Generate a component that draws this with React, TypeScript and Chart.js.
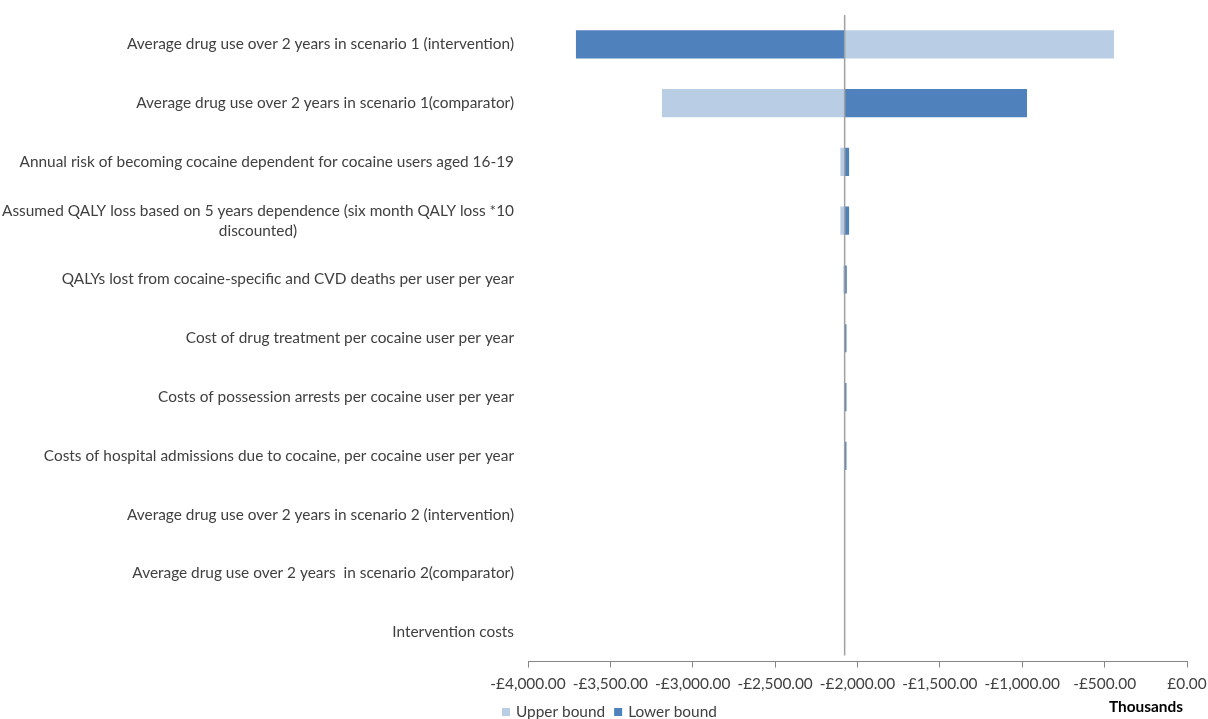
import React, { useEffect, useRef } from "react";
import { Chart, registerables } from "chart.js";

Chart.register(...registerables);

const categories: (string | string[])[] = [
  "Average drug use over 2 years in scenario 1 (intervention)",
  "Average drug use over 2 years in scenario 1(comparator)",
  "Annual risk of becoming cocaine dependent for cocaine users aged 16-19",
  ["Assumed QALY loss based on 5 years dependence (six month QALY loss *10", "discounted)"],
  "QALYs lost from cocaine-specific and CVD deaths per user per year",
  "Cost of drug treatment per cocaine user per year",
  "Costs of possession arrests per cocaine user per year",
  "Costs of hospital admissions due to cocaine, per cocaine user per year",
  "Average drug use over 2 years in scenario 2 (intervention)",
  "Average drug use over 2 years  in scenario 2(comparator)",
  "Intervention costs",
];

// Base-case value (thousands of £) where the bars start
const BASE = -2078;

const upperBound = [-443, -3187, -2104, -2104, -2086, -2081, -2081, -2081, -2078, -2078, -2078];
const lowerBound = [-3709, -971, -2051, -2051, -2065, -2067, -2067, -2067, -2078, -2078, -2078];

const seriesNames = ["Upper bound", "Lower bound"];
const seriesColors = ["#b9cde5", "#4f81bd"];

const xTicksMin = -4000;
const xTicksMax = 0;
const xTickStep = 500;

const FONT = "Lato";
const FS = 15.4;
const TEXT = "#404040";

const fmt = (v: number) => {
  const a = Math.abs(v).toLocaleString("en-GB", { minimumFractionDigits: 2, maximumFractionDigits: 2 });
  return (v < 0 ? "-" : "") + "£" + a;
};

const catLabels = {
  id: "catLabels",
  afterDraw(chart: any) {
    const ctx = chart.ctx;
    const ys = chart.scales.y;
    ctx.save();
    ctx.font = `${FS}px ${FONT}`;
    ctx.fillStyle = TEXT;
    ctx.textBaseline = "middle";
    ctx.textAlign = "center";
    const xr = chart.chartArea.left - 14;
    const LH = 20;
    categories.forEach((lab, i) => {
      const lines = Array.isArray(lab) ? lab : [lab];
      const yc = ys.getPixelForValue(i);
      const W = Math.max(...lines.map((l) => ctx.measureText(l).width));
      const cx = xr - W / 2;
      lines.forEach((l, k) => ctx.fillText(l, cx, yc + (k - (lines.length - 1) / 2) * LH));
    });
    ctx.restore();
  },
};

const baseLine = {
  id: "baseLine",
  afterDatasetsDraw(chart: any) {
    const ctx = chart.ctx;
    const x = chart.scales.x.getPixelForValue(BASE);
    const { top, bottom } = chart.chartArea;
    ctx.save();
    ctx.strokeStyle = "#a0a0a0";
    ctx.lineWidth = 1.5;
    ctx.beginPath();
    ctx.moveTo(x, top);
    ctx.lineTo(x, bottom - 6);
    ctx.stroke();
    ctx.restore();
  },
};

const bottomTexts = {
  id: "bottomTexts",
  afterDraw(chart: any) {
    const ctx = chart.ctx;
    ctx.save();
    // units label
    ctx.font = `bold ${FS}px ${FONT}`;
    ctx.fillStyle = "#000000";
    ctx.textAlign = "right";
    ctx.textBaseline = "middle";
    ctx.fillText("Thousands", chart.chartArea.right - 4, chart.height - 12);
    // legend
    ctx.font = `${FS}px ${FONT}`;
    ctx.fillStyle = TEXT;
    ctx.textAlign = "left";
    let x = chart.chartArea.left - 26;
    const y = chart.height - 7;
    seriesNames.forEach((name, i) => {
      ctx.fillStyle = seriesColors[i];
      ctx.fillRect(x, y - 4, 8, 8);
      ctx.fillStyle = TEXT;
      ctx.fillText(name, x + 14, y);
      x += 14 + ctx.measureText(name).width + 9;
    });
    ctx.restore();
  },
};

export default function App() {
  const ref = useRef<HTMLCanvasElement | null>(null);

  useEffect(() => {
    document.body.style.margin = "0";
    const canvas = ref.current;
    if (!canvas) return;
    const chart = new Chart(canvas, {
      type: "bar",
      data: {
        labels: categories as any,
        datasets: [
          {
            label: seriesNames[0],
            data: upperBound.map((v) => [BASE, v]) as any,
            backgroundColor: seriesColors[0],
            borderWidth: 0,
            grouped: false,
            barPercentage: 0.48,
            categoryPercentage: 1,
          } as any,
          {
            label: seriesNames[1],
            data: lowerBound.map((v) => [BASE, v]) as any,
            backgroundColor: seriesColors[1],
            borderWidth: 0,
            grouped: false,
            barPercentage: 0.48,
            categoryPercentage: 1,
          } as any,
        ],
      },
      options: {
        indexAxis: "y",
        animation: false,
        responsive: true,
        maintainAspectRatio: false,
        layout: { padding: { top: 15, right: 21, left: 0, bottom: 19 } },
        plugins: {
          tooltip: { enabled: false },
          legend: { display: false },
        },
        scales: {
          x: {
            min: xTicksMin,
            max: xTicksMax,
            ticks: {
              stepSize: xTickStep,
              autoSkip: false,
              maxRotation: 0,
              padding: 7,
              color: TEXT,
              font: { family: FONT, size: FS },
              callback: (v: any) => fmt(Number(v)),
            },
            grid: { drawOnChartArea: false, drawTicks: true, tickLength: 6, color: "#868686" },
            border: { display: true, color: "#868686" },
            afterFit: (s: any) => {
              s.paddingLeft = 0;
              s.paddingRight = 0;
            },
          },
          y: {
            ticks: { display: false },
            grid: { display: false },
            border: { display: false },
            afterFit: (s: any) => {
              s.width = 528;
            },
          },
        },
      } as any,
      plugins: [catLabels, baseLine, bottomTexts],
    });
    return () => chart.destroy();
  }, []);

  return (
    <div style={{ width: 1208, height: 719, position: "relative" }}>
      <canvas ref={ref} />
    </div>
  );
}
